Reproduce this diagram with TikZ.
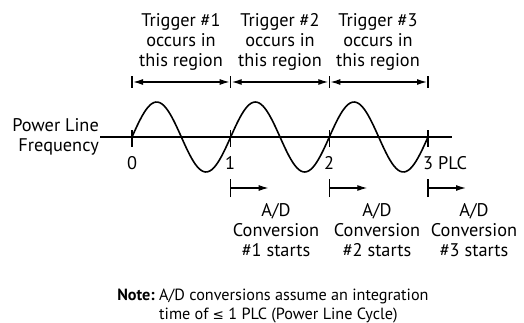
\documentclass[tikz,border=0pt]{standalone}
\usepackage{fontspec}
\setmainfont{PT Sans}
\newfontfamily\symfont{DejaVu Sans}
\usetikzlibrary{arrows.meta}

\begin{document}
\begin{tikzpicture}[
    x=1pt, y=-1pt,
    font=\fontsize{18.3}{20}\selectfont,
    wave/.style={line width=1.6pt},
    axis/.style={line width=1.3pt},
    bar/.style={line width=1.3pt},
    span/.style={line width=1.3pt, {Latex[length=10pt,width=6pt]}-{Latex[length=10pt,width=6pt]}, shorten <=1pt, shorten >=1pt},
    start/.style={line width=1.3pt, -{Latex[length=10pt,width=6pt]}},
    lbl/.style={align=center, inner sep=0pt},
    ticklbl/.style={inner sep=0pt},
    notefont/.style={font=\fontsize{16.2}{19}\selectfont, inner sep=0pt},
]
\useasboundingbox (0,0) rectangle (524,323);

\def\per{98.67}

% Axis and cycle ticks
\coordinate (a0) at (100,137);
\coordinate (a1) at (452,137);
\draw[axis] (a0) -- (a1);
\foreach \i in {0,1,2,3} {
    \coordinate (t\i) at (132+\i*\per,137);
    \draw[bar] ([yshift=-10pt]t\i) -- ([yshift=7pt]t\i);
}

% Power line sine wave
\draw[wave] plot[domain=0:3*\per, samples=150, smooth]
    ({132+\x}, {137-35*sin(\x/\per*360)});

\node[lbl, align=right, anchor=east] (plf) at (99,137) {Power Line\\Frequency};

% Tick labels
\node[ticklbl] (n0) at (132,163) {0};
\node[ticklbl] (n1) at (230,163) {1};
\node[ticklbl] (n2) at (329,163) {2};
\node[ticklbl, anchor=west] (n3) at (423,163) {3 PLC};

% Trigger regions
\foreach \i in {0,1,2,3} {
    \coordinate (b\i) at (132+\i*\per,82);
    \draw[bar] ([yshift=-6pt]b\i) -- ([yshift=6pt]b\i);
}
\foreach \i/\j in {0/1,1/2,2/3} {
    \draw[span] (b\i) -- (b\j);
}
\node[lbl] (trig1) at (181,42) {Trigger \#1\\occurs in\\this region};
\node[lbl] (trig2) at (280,42) {Trigger \#2\\occurs in\\this region};
\node[lbl] (trig3) at (378,42) {Trigger \#3\\occurs in\\this region};

% A/D conversion starts
\foreach \i in {1,2,3} {
    \coordinate (s\i) at (132+\i*\per,188);
    \draw[bar] ([yshift=-9pt]s\i) -- ([yshift=9pt]s\i);
    \draw[start] (s\i) -- ([xshift=38pt]s\i);
}
\node[lbl] (conv1) at (276,230) {A/D\\Conversion\\\#1 starts};
\node[lbl] (conv2) at (377,230) {A/D\\Conversion\\\#2 starts};
\node[lbl] (conv3) at (474,230) {A/D\\Conversion\\\#3 starts};

% Note
\node[notefont, anchor=base east] (notehd) at (155,300) {\bfseries Note:};
\node[notefont, align=left, anchor=base west] (notetx) at (159,319)
    {A/D conversions assume an integration\\time of {\symfont\fontsize{13.5}{19}\selectfont ≤} 1 PLC (Power Line Cycle)};

\end{tikzpicture}
\end{document}
